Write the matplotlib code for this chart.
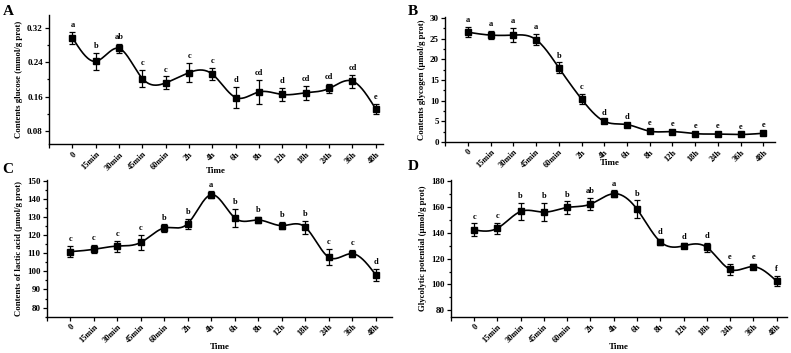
# four-panel time course: glucose, glycogen, lactic acid, glycolytic potential
import numpy as np
import matplotlib
matplotlib.use("Agg")
import matplotlib.pyplot as plt
from matplotlib.ticker import AutoMinorLocator

plt.rcParams["font.family"] = "Liberation Serif"
plt.rcParams["font.weight"] = "bold"

times = ["0", "15min", "30min", "45min", "60min", "2h", "4h", "6h", "8h",
         "12h", "18h", "24h", "36h", "48h"]

glucose = [0.297, 0.242, 0.272, 0.202, 0.192, 0.216, 0.212, 0.158, 0.171,
           0.165, 0.169, 0.179, 0.196, 0.131]
glucose_err = [0.014, 0.020, 0.011, 0.020, 0.015, 0.022, 0.014, 0.025, 0.028,
               0.016, 0.016, 0.011, 0.015, 0.012]
glucose_sig = ["a", "b", "ab", "c", "c", "c", "c", "d", "cd", "d", "cd", "cd", "cd", "e"]

glycogen = [26.6, 25.9, 25.9, 24.8, 18.0, 10.4, 5.0, 4.2, 2.6, 2.5, 2.0, 1.9, 1.8, 2.1]
glycogen_err = [1.2, 1.0, 1.7, 1.4, 1.3, 1.2, 0.4, 0.3, 0.3, 0.3, 0.2, 0.2, 0.2, 0.3]
glycogen_sig = ["a", "a", "a", "a", "b", "c", "d", "d", "e", "e", "e", "e", "e", "e"]

lactic = [110.9, 112.2, 114.0, 116.0, 124.0, 126.4, 142.4, 129.6, 128.4,
          125.3, 124.4, 107.8, 109.8, 98.0]
lactic_err = [3.0, 2.3, 3.0, 4.0, 2.0, 2.7, 1.8, 5.0, 1.6, 2.0, 3.6, 4.5, 2.0, 3.3]
lactic_sig = ["c", "c", "c", "c", "b", "b", "a", "b", "b", "b", "b", "c", "c", "d"]

glycolytic = [142.3, 143.6, 156.6, 156.1, 159.7, 162.3, 170.4, 158.4, 133.2,
              129.9, 128.8, 111.7, 113.8, 102.6]
glycolytic_err = [5.0, 4.4, 6.5, 7.0, 4.7, 4.7, 2.6, 6.8, 2.4, 2.0, 3.6, 4.2, 2.0, 3.9]
glycolytic_sig = ["c", "c", "b", "b", "b", "ab", "a", "b", "d", "d", "d", "e", "e", "f"]


def natural_spline(x, y, n=400):
    # natural cubic spline, only used to draw the smooth connecting line
    x = np.asarray(x, float)
    y = np.asarray(y, float)
    k = len(x)
    h = np.diff(x)
    A = np.zeros((k, k))
    r = np.zeros(k)
    A[0, 0] = A[-1, -1] = 1
    for i in range(1, k - 1):
        A[i, i - 1] = h[i - 1]
        A[i, i] = 2 * (h[i - 1] + h[i])
        A[i, i + 1] = h[i]
        r[i] = 6 * ((y[i + 1] - y[i]) / h[i] - (y[i] - y[i - 1]) / h[i - 1])
    m = np.linalg.solve(A, r)
    xs = np.linspace(x[0], x[-1], n)
    idx = np.clip(np.searchsorted(x, xs) - 1, 0, k - 2)
    x0, x1 = x[idx], x[idx + 1]
    hh = x1 - x0
    a = (x1 - xs) / hh
    b = (xs - x0) / hh
    ys = (a * y[idx] + b * y[idx + 1]
          + ((a ** 3 - a) * m[idx] + (b ** 3 - b) * m[idx + 1]) * hh ** 2 / 6)
    return xs, ys


fig = plt.figure(figsize=(7.91, 3.53), dpi=100)

# letter, axes rect, data, ylabel, ylim, yticks, format, xmax, Time labelpad, letter pos
panels = [
    ("A", [0.062, 0.592, 0.422, 0.366], glucose, glucose_err, glucose_sig,
     "Contents glucose (mmol/g prot)", (0.05, 0.35), [0.08, 0.16, 0.24, 0.32], "%.2f",
     13.3, -3.5, (0.004, 0.9575)),
    ("B", [0.5626, 0.598, 0.417, 0.354], glycogen, glycogen_err, glycogen_sig,
     "Contents glycogen (μmol/g prot)", (0, 30.3), [0, 5, 10, 15, 20, 25, 30], "%d",
     13.5, -7.5, (0.516, 0.9575)),
    ("C", [0.059, 0.103, 0.437, 0.387], lactic, lactic_err, lactic_sig,
     "Contents of lactic acid (μmol/g prot)", (75, 150.5), list(range(80, 151, 10)), "%d",
     13.7, -1, (0.003, 0.51)),
    ("D", [0.570, 0.103, 0.425, 0.387], glycolytic, glycolytic_err, glycolytic_sig,
     "Glycolytic potential (μmol/g prot)", (75, 181), list(range(80, 181, 20)), "%d",
     13.45, -1, (0.516, 0.518)),
]

x = np.arange(len(times))
for (letter, rect, vals, errs, sig, ylabel, ylim, yticks, fmt,
     xmax, tpad, lpos) in panels:
    ax = fig.add_axes(rect)
    xs, ys = natural_spline(x, vals)
    ax.plot(xs, ys, color="black", lw=1.2, zorder=2)
    ax.errorbar(x, vals, yerr=errs, fmt="s", color="black", ms=5,
                elinewidth=0.9, capsize=2.2, capthick=0.9, zorder=3)
    for xi, v, e, s in zip(x, vals, errs, sig):
        ax.annotate(s, (xi, v + e), xytext=(0, 2), textcoords="offset points",
                    ha="center", va="bottom", fontsize=6, fontweight="bold")
    ax.set_xlim(-1, xmax)
    ax.set_ylim(*ylim)
    ax.set_xticks(np.arange(-1, len(times)))
    ax.set_xticklabels([""] + times, rotation=45, ha="right",
                       rotation_mode="anchor", fontsize=6, fontweight="bold")
    ax.set_yticks(yticks)
    ax.set_yticklabels([fmt % t for t in yticks], fontsize=6.5, fontweight="bold")
    ax.yaxis.set_minor_locator(AutoMinorLocator(2))
    ax.tick_params(axis="both", which="major", direction="out", length=3, width=0.9, pad=1.5)
    ax.tick_params(axis="y", which="minor", direction="out", length=1.5, width=0.9)
    for side in ["top", "right"]:
        ax.spines[side].set_visible(False)
    for side in ["left", "bottom"]:
        ax.spines[side].set_linewidth(1.0)
    ax.set_ylabel(ylabel, fontsize=6.3, fontweight="bold", labelpad=3)
    ax.set_xlabel("Time", fontsize=6.5, fontweight="bold", labelpad=tpad)
    fig.text(lpos[0], lpos[1], letter, fontsize=11, fontweight="bold",
             ha="left", va="baseline")

fig.savefig("out.png", dpi=100)
